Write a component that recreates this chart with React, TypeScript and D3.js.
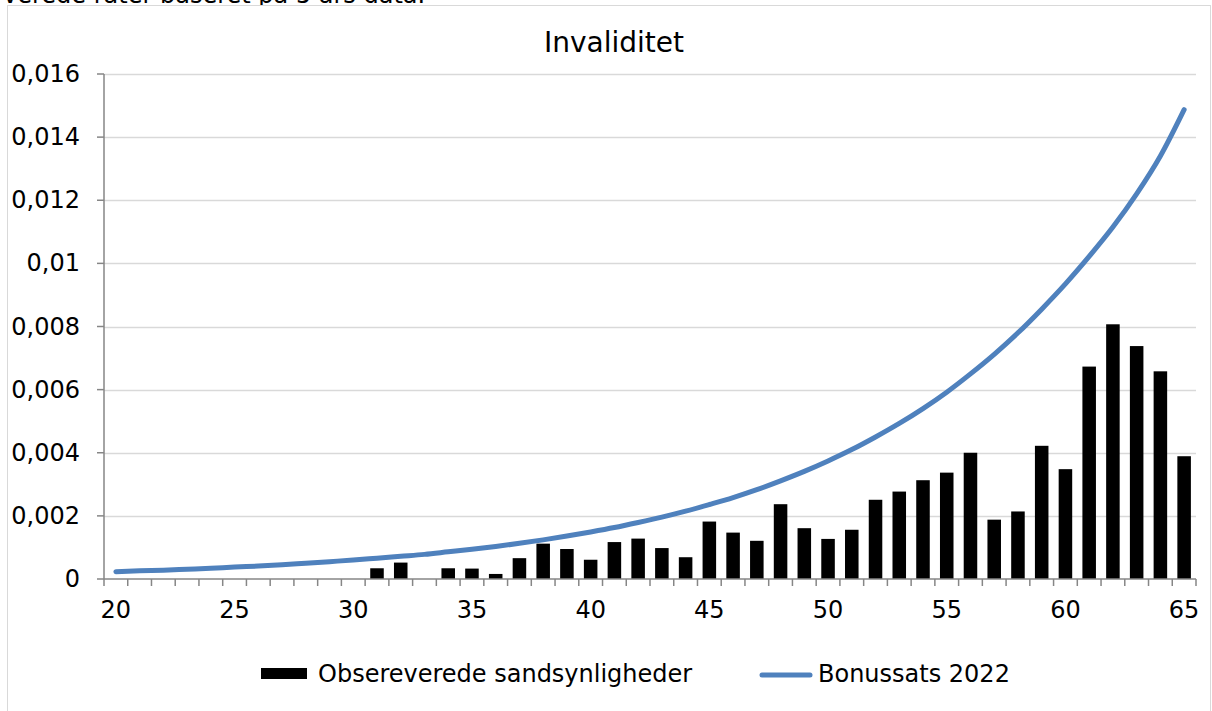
import React from "react";
import * as d3 from "d3";

const ages: number[] = [20,21,22,23,24,25,26,27,28,29,30,31,32,33,34,35,36,37,38,39,40,41,42,43,44,45,46,47,48,49,50,51,52,53,54,55,56,57,58,59,60,61,62,63,64,65];

const observed: (number | null)[] = [
  null,null,null,null,null,null,null,null,null,null,null,
  0.00034,0.00052,null,0.00034,0.00033,0.00016,0.00066,0.00112,0.00095,0.00061,
  0.00117,0.00128,0.00098,0.00069,0.00182,0.00147,0.00121,0.00237,0.00161,0.00127,
  0.00156,0.00251,0.00277,0.00313,0.00337,0.00400,0.00188,0.00214,0.00422,0.00348,
  0.00673,0.00807,0.00738,0.00658,0.00389,
];

const bonus: number[] = [
  0.00023,0.00026,0.00028,0.00031,0.00034,0.00038,0.00041,0.00045,0.00050,0.00055,
  0.00060,0.00066,0.00072,0.00078,0.00086,0.00094,0.00103,0.00113,0.00124,0.00136,
  0.00149,0.00163,0.00179,0.00196,0.00215,0.00236,0.00258,0.00283,0.00311,0.00341,
  0.00374,0.00410,0.00450,0.00493,0.00540,0.00592,0.00650,0.00712,0.00780,0.00855,
  0.00935,0.01022,0.01115,0.01220,0.01340,0.01487,
];

const yTicks: number[] = [0,0.002,0.004,0.006,0.008,0.01,0.012,0.014,0.016];
const yTickLabels: string[] = ["0","0,002","0,004","0,006","0,008","0,01","0,012","0,014","0,016"];
const xLabelAges: number[] = [20,25,30,35,40,45,50,55,60,65];

const title = "Invaliditet";
const topText = "verede rater baseret på 5 års data.";
const seriesNames: string[] = ["Obsereverede sandsynligheder", "Bonussats 2022"];

const W = 1212, H = 711;
const L = 104, R = 1196, T = 74, B = 579;
const FONT = "'DejaVu Sans', Verdana, sans-serif";
const BLUE = "#4f81bd";
const AXIS = "#868686";
const GRID = "#d9d9d9";

export default function App() {
  const x = d3.scaleBand<number>().domain(ages).range([L, R]).padding(0);
  const step = x.step();
  const barW = step * 0.57;
  const y = d3.scaleLinear().domain([0, 0.016]).range([B, T]);
  const cx = (a: number) => (x(a) as number) + step / 2;

  const line = d3.line<number>()
    .x((_, i) => cx(ages[i]))
    .y((d) => y(d))
    .curve(d3.curveMonotoneX);

  const boundaries = d3.range(ages.length + 1).map((i) => L + i * step);

  return (
    <svg width={W} height={H} style={{ position: "absolute", left: 0, top: 0, background: "#fff" }}
      fontFamily={FONT}>
      <rect x={0} y={0} width={W} height={H} fill="#fff" />
      <text x={3} y={3} fontSize={24} fill="#000">{topText}</text>
      <rect x={7.5} y={5.5} width={1203} height={720} fill="#fff" stroke={GRID} strokeWidth={1} />
      <text x={614} y={52} fontSize={28} textAnchor="middle" fill="#000">{title}</text>

      {yTicks.slice(1).map((t) => (
        <line key={"g" + t} x1={L} x2={R} y1={Math.round(y(t)) + 0.5} y2={Math.round(y(t)) + 0.5} stroke={GRID} strokeWidth={1.5} />
      ))}

      {ages.map((a, i) => {
        const v = observed[i];
        if (v == null) return null;
        return (
          <rect key={"b" + a} x={cx(a) - barW / 2} y={y(v)} width={barW} height={B - y(v)} fill="#000" />
        );
      })}

      <line x1={L} x2={L} y1={T} y2={B} stroke={AXIS} strokeWidth={1.5} />
      {yTicks.map((t, i) => (
        <g key={"yt" + t}>
          <line x1={L - 7} x2={L} y1={y(t)} y2={y(t)} stroke={AXIS} strokeWidth={1.5} />
          <text x={80} y={y(t) + 8} fontSize={24} textAnchor="end" fill="#000">{yTickLabels[i]}</text>
        </g>
      ))}

      <line x1={L} x2={R} y1={B} y2={B} stroke={AXIS} strokeWidth={1.5} />
      {boundaries.map((bx, i) => (
        <line key={"xt" + i} x1={bx} x2={bx} y1={B} y2={B + 7} stroke={AXIS} strokeWidth={1.5} />
      ))}
      {xLabelAges.map((a) => (
        <text key={"xl" + a} x={cx(a)} y={618} fontSize={24} textAnchor="middle" fill="#000">{a}</text>
      ))}

      <path d={line(bonus) || ""} fill="none" stroke={BLUE} strokeWidth={5} strokeLinecap="round" strokeLinejoin="round" />

      <rect x={261} y={668} width={46} height={11} fill="#000" />
      <text x={318} y={682} fontSize={24} fill="#000">{seriesNames[0]}</text>
      <line x1={762} x2={810} y1={675} y2={675} stroke={BLUE} strokeWidth={5} strokeLinecap="round" />
      <text x={818} y={682} fontSize={24} fill="#000">{seriesNames[1]}</text>
    </svg>
  );
}
